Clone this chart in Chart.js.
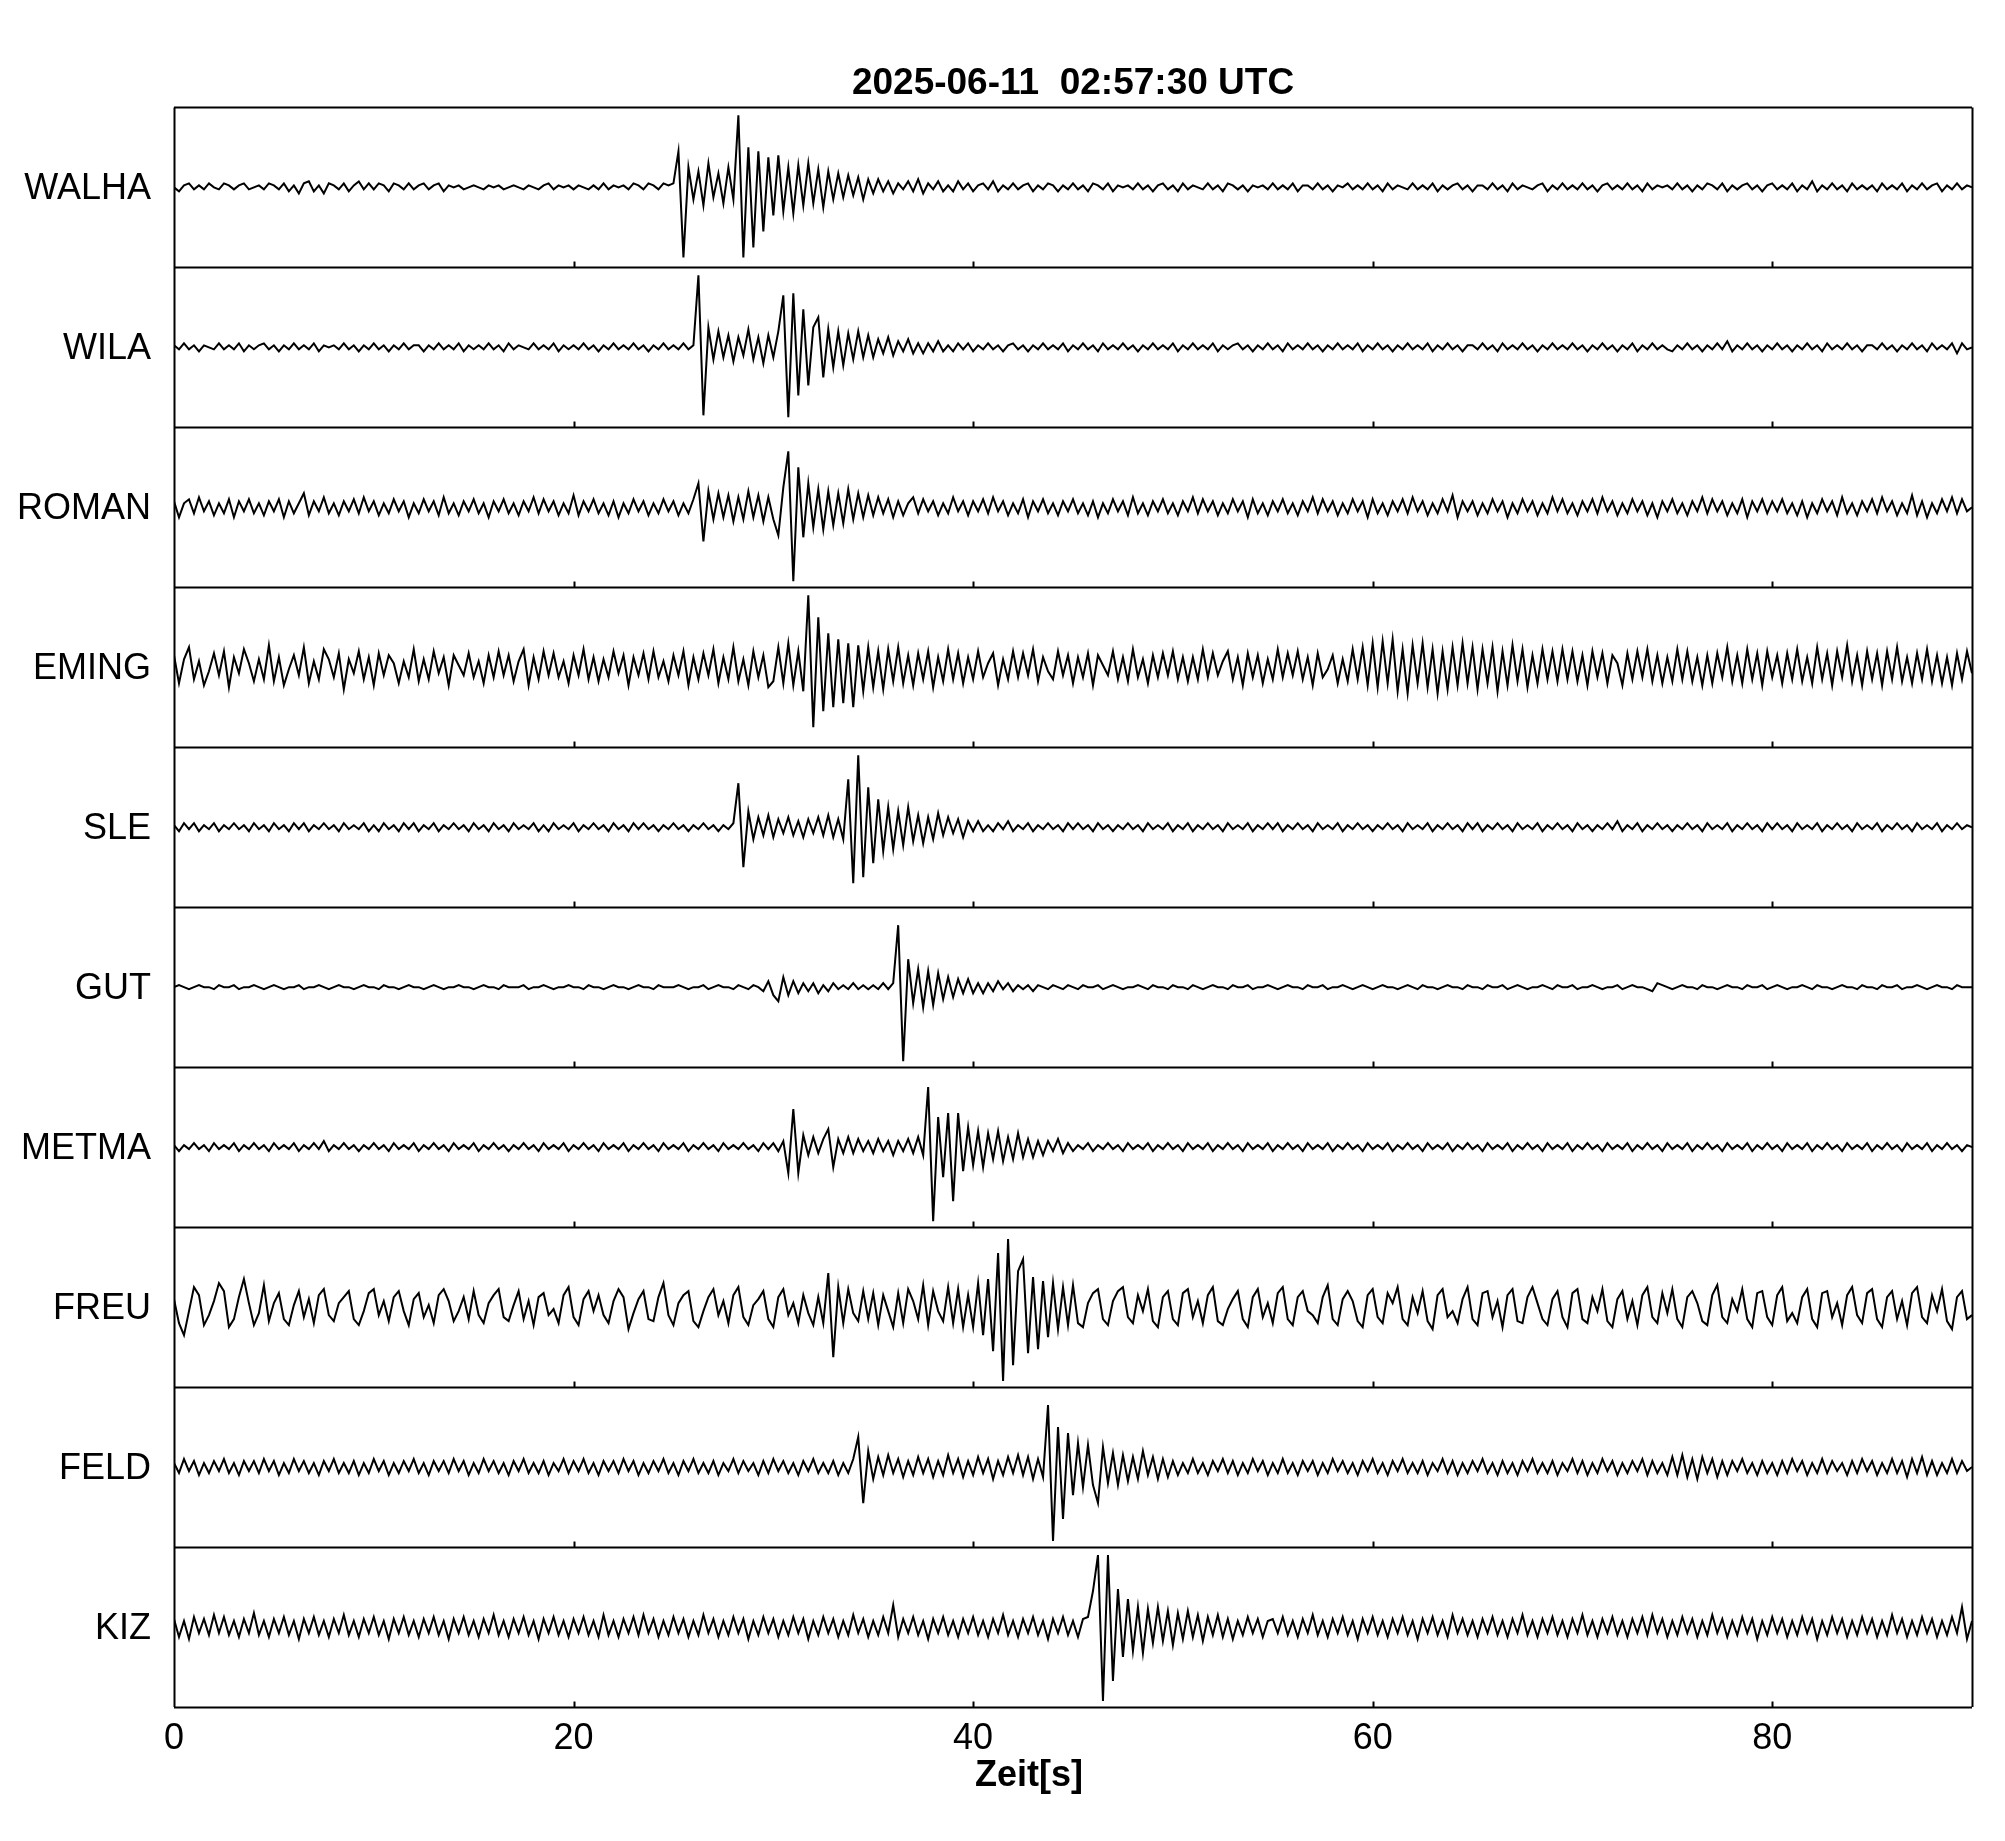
<!DOCTYPE html>
<html>
<head>
<meta charset="utf-8">
<script src="https://cdn.jsdelivr.net/npm/chart.js@4.4.1/dist/chart.umd.min.js"></script>
<style>
  html, body { margin: 0; padding: 0; background: #fff; }
  canvas { display: block; }
</style>
</head>
<body>
<canvas id="seis" width="2005" height="1841"></canvas>
<script>
// station names, top to bottom
const stations = ['WALHA', 'WILA', 'ROMAN', 'EMING', 'SLE', 'GUT', 'METMA', 'FREU', 'FELD', 'KIZ'];
const xTicks = [0, 20, 40, 60, 80];
const dt = 0.25; // seconds between samples

// amplitudes, one sample every 0.25 s (20 per row = 5 s)
const walha = [
  0,-2,1,2,-1,1,-1,2,0,-1,2,1,-1,1,2,-1,0,1,-1,2,
  1,-1,2,-2,1,-3,2,3,-2,1,-3,2,1,-1,2,-2,1,3,-1,2,
  -1,2,1,-2,2,1,-1,2,-1,1,2,-1,1,2,-2,1,0,1,-1,0,
  1,0,-1,1,0,1,-1,0,1,0,-1,1,0,-1,1,2,-1,1,0,1,
  -1,1,0,-1,1,-1,2,-1,1,0,1,-1,2,1,-1,2,1,-1,2,1,
  2,18,-35,10,-6,8,-9,12,-5,7,-8,10,-6,36,-35,20,-30,18,-22,15,
  -14,16,-12,10,-13,11,-9,12,-8,9,-10,8,-6,7,-5,6,-4,5,-6,4,
  -3,4,-2,3,-3,2,-1,3,-2,4,-3,2,-1,3,-2,1,-2,3,-1,2,
  -2,1,2,-1,3,-2,1,-1,2,-1,1,2,-2,1,-1,2,1,-2,1,-1,
  2,-1,1,-2,2,1,-1,2,-2,1,0,1,-1,2,-1,1,-2,1,2,-1,
  1,-2,2,-1,1,0,-1,2,-1,1,-2,2,1,-1,1,-2,1,0,1,-1,
  2,-1,1,-1,2,-2,1,1,-1,2,-1,1,-2,1,0,2,-1,1,-1,2,
  -1,1,-2,2,-1,1,0,-1,2,-1,1,-1,2,-2,1,-1,1,2,-1,1,
  -2,1,1,-1,2,-1,1,-2,2,-1,1,0,-1,1,2,-2,1,-1,2,-1,
  1,-1,2,-1,1,-2,1,2,-1,1,-1,2,-1,1,-2,2,-1,1,0,1,
  -1,2,-1,1,-2,1,-1,2,1,-1,2,-2,1,-1,1,2,-1,1,-2,1,
  2,-1,1,-1,2,-2,1,-1,3,-2,1,-1,2,-1,1,-2,2,-1,1,-1,
  1,-2,2,-1,1,-1,2,-2,1,-1,2,-1,1,2,-2,1,-1,2,-1,1,
  0
];
const wila = [
  1,-1,2,-1,1,-2,1,0,-1,2,-1,1,-1,2,-2,1,-1,1,2,-1,
  1,-2,1,-1,2,-1,1,-1,2,-2,1,0,1,-1,2,-1,1,-2,1,-1,
  2,-1,1,-2,1,-1,2,-1,1,1,-2,1,-1,2,-1,1,-1,2,-2,1,
  -1,1,-1,2,-1,1,-2,2,-1,1,0,-1,2,-1,1,-1,2,-2,1,-1,
  1,-1,2,-1,1,-2,1,-1,2,-1,1,-1,2,-1,1,-2,1,-1,2,-1,
  1,-1,2,-1,1,36,-34,10,-6,8,-5,6,-7,5,-4,9,-6,5,-8,6,
  -5,8,26,-35,27,-24,19,-19,10,15,-15,9,-10,8,-9,7,-6,8,-5,6,
  -5,4,-3,5,-4,3,-2,4,-3,2,-3,2,-2,3,-2,1,-2,2,-1,2,
  -2,1,-1,2,-1,1,-2,1,2,-1,1,-2,1,-1,2,-1,1,-1,2,-2,
  1,-1,2,-1,1,-2,2,-1,1,-1,2,-1,1,-2,1,-1,2,-1,1,-1,
  2,-2,1,-1,2,-1,1,-1,2,-2,1,-1,1,2,-1,1,-2,1,-1,2,
  -1,1,-2,2,-1,1,-1,2,-1,1,-2,1,-1,2,-1,1,-1,2,-2,1,
  -1,2,-1,1,-2,1,-1,2,-1,1,-1,2,-2,1,-1,2,-1,1,-2,1,
  1,-1,2,-1,1,-2,2,-1,1,-1,2,-1,1,-2,1,-1,2,-1,1,-1,
  2,-1,1,-2,1,-1,2,-1,1,-2,1,-1,2,-2,1,-1,2,-1,1,-1,
  -2,1,-1,2,-1,1,-2,1,-1,2,-1,3,-2,1,-1,2,-1,1,-2,1,
  -1,2,-1,1,-2,1,-1,2,-1,1,-2,2,-1,1,-1,2,-1,1,-2,1,
  1,-1,2,-1,1,-2,1,-1,2,-1,1,-2,2,-1,1,-1,2,-3,2,-1,
  0
];
const roman = [
  3,-5,2,4,-3,5,-2,3,-4,2,-3,4,-5,3,-2,4,-3,2,-4,3,
  -2,4,-5,3,-3,2,7,-4,3,-2,5,-3,2,-4,3,-2,4,-3,5,-2,
  3,-4,2,-3,4,-2,3,-5,2,-3,4,-2,3,-4,5,-3,2,-4,3,-2,
  4,-3,2,-5,3,-2,4,-3,2,-4,3,-2,5,-3,4,-2,3,-4,2,-3,
  6,-4,3,-2,4,-3,2,-4,3,-5,2,-3,4,-2,3,-4,2,-3,4,-2,
  3,-4,2,-3,4,12,-17,8,-6,7,-5,6,-7,5,-6,8,-5,6,-7,5,
  -6,-14,10,28,-37,20,-15,12,-10,9,-11,8,-9,7,-8,9,-6,7,-5,6,
  -4,5,-3,4,-5,3,-4,2,5,-3,4,-2,3,-4,2,-3,5,-2,3,-4,
  3,-2,4,-3,5,-2,3,-4,2,-3,4,-5,3,-2,4,-3,2,-4,3,-2,
  4,-3,2,-4,3,-5,2,-3,4,-2,3,-4,5,-3,2,-4,3,-2,4,-3,
  2,-4,3,-2,5,-3,4,-2,3,-4,2,-3,4,-2,3,-5,4,-3,2,-4,
  3,-2,4,-3,2,-4,3,-2,5,-3,4,-2,3,-4,2,-3,4,-2,3,-5,
  4,-3,2,-4,3,-2,4,-3,5,-2,3,-4,2,-3,4,-2,6,-5,3,-2,
  3,-4,2,-3,4,-2,3,-5,2,-3,4,-2,3,-4,2,-3,5,-2,4,-3,
  2,-4,3,-2,4,-3,5,-2,3,-4,2,-3,4,-2,3,-4,2,-5,3,-2,
  4,-3,2,-4,3,-2,5,-3,4,-2,3,-4,2,-3,4,-5,3,-2,4,-3,
  3,-2,4,-3,2,-4,3,-5,2,-3,4,-2,3,-4,5,-3,2,-4,3,-2,
  4,-3,5,-2,3,-4,2,-3,6,-4,3,-5,2,-3,4,-2,5,-3,4,-2,
  0
];
const eming = [
  6,-8,4,10,-6,3,-9,-2,7,-4,8,-10,5,-3,9,2,-7,4,-6,11,
  -7,5,-9,-1,6,-4,10,-8,3,-6,9,4,-5,7,-11,4,-3,8,-6,5,
  -9,7,-4,6,2,-8,3,-5,9,-7,4,-6,8,-3,5,-9,6,1,-4,7,
  -5,3,-8,6,-5,8,-4,6,-7,3,9,-9,5,-6,8,-4,7,-5,3,-8,
  6,-4,9,-6,5,-7,4,-5,8,-3,6,-9,5,-4,7,-6,8,-5,3,-7,
  6,-4,8,-9,5,-6,7,-4,9,-8,5,-6,10,-7,4,-9,8,-5,6,-10,
  -7,10,-8,12,-9,8,-12,36,-30,25,-22,17,-20,14,-18,12,-20,11,-12,10,
  -10,8,-11,9,-7,10,-8,6,-9,7,-6,8,-10,5,-7,9,-6,7,-8,5,
  -6,8,-5,2,7,-9,4,-6,8,-5,7,-4,9,-7,5,-2,-6,8,-4,6,
  -8,5,-5,7,-9,6,1,-4,8,-6,5,-7,9,-5,4,-8,6,-5,7,-4,
  8,-6,5,-7,5,-6,9,-5,7,-4,3,8,-6,5,-9,7,-5,6,-8,4,
  -6,9,-5,7,-4,8,-6,5,-9,7,-5,-1,6,-8,4,-7,9,-6,10,-9,
  12,-10,13,-8,14,-12,9,-13,11,-8,12,-10,9,-13,8,-11,10,-9,12,-8,
  10,-11,9,-8,10,-12,8,-9,11,-7,9,-10,6,-8,9,-6,8,-7,9,-6,
  8,-7,6,-9,8,-5,7,-8,6,2,-9,7,-6,8,-5,9,-7,6,-8,5,
  -7,9,-6,8,-7,5,-9,6,-8,7,-5,10,-7,6,-8,9,-6,7,-9,8,
  -5,6,-8,7,-6,9,-7,5,-8,10,-6,7,-9,8,-5,11,-7,6,-9,8,
  -6,7,-9,8,-6,10,-7,5,-8,7,-6,9,-7,6,-8,5,-9,7,-6,8,
  -3
];
const sle = [
  1,-2,2,-1,2,-2,1,-1,2,-2,1,-1,2,-1,1,-2,2,-1,1,-2,
  2,-1,1,-2,2,-1,2,-2,1,-1,2,-1,1,-2,2,-1,1,-1,2,-2,
  1,-2,2,-1,1,-2,2,-1,2,-2,1,-1,2,-2,1,-1,2,-1,1,-2,
  2,-1,1,-2,2,-1,1,-2,2,-1,1,-1,2,-2,1,-2,2,-1,1,-1,
  2,-2,1,-1,2,-1,1,-2,2,-1,1,-2,2,-1,2,-1,1,-2,1,-1,
  2,-1,1,-2,1,-1,2,-1,1,-2,1,-1,2,22,-20,8,-6,5,-4,6,
  -5,4,-3,5,-4,3,-5,4,-3,5,-4,6,-5,4,-6,24,-28,36,-25,20,
  -18,14,-12,10,-11,8,-9,10,-7,6,-8,5,-6,7,-4,5,-3,4,-5,3,
  -2,3,-2,1,-2,2,-1,3,-2,1,-1,2,-2,1,-1,2,-1,1,-2,2,
  -1,2,-1,1,-2,2,-1,1,-2,1,-1,2,-1,1,-2,2,-1,1,-1,2,
  -2,1,-1,2,-2,1,-1,2,-1,1,-2,2,-1,1,-1,2,-2,1,-1,2,
  -1,2,-2,1,-1,2,-1,1,-2,2,-1,1,-1,2,-2,1,-1,2,-1,1,
  -2,1,-1,2,-1,1,-2,2,-1,1,-1,2,-2,1,-1,2,-1,1,-2,2,
  -1,2,-2,1,-1,2,-1,1,-2,2,-1,1,-1,2,-2,1,-1,2,-1,1,
  -2,2,-1,1,-2,1,-1,2,-1,3,-2,1,-1,2,-2,1,-1,2,-1,1,
  -2,1,-1,2,-1,1,-2,2,-1,1,-1,2,-2,1,-1,2,-1,1,-2,2,
  -1,2,-1,1,-2,2,-1,1,-1,2,-2,1,-1,2,-1,1,-2,2,-1,1,
  -1,2,-2,1,-1,2,-1,1,-2,2,-1,1,-1,2,-2,1,-1,2,-1,1,
  0
];
const gut = [
  0,1,0,-1,0,1,0,0,-1,1,0,0,1,-1,0,0,1,0,-1,0,
  1,0,-1,0,0,1,-1,0,0,1,0,-1,0,1,0,0,-1,0,1,0,
  0,-1,1,0,0,-1,0,1,0,0,-1,0,1,0,-1,0,0,1,0,0,
  -1,0,1,0,0,-1,1,0,0,0,1,-1,0,0,1,0,-1,0,0,1,
  0,0,-1,1,0,0,-1,0,1,0,0,-1,0,1,0,0,-1,1,0,0,
  0,1,0,-1,0,0,1,-1,0,1,0,0,-1,1,0,-1,1,0,-2,3,
  -4,-7,5,-4,3,-3,2,-2,2,-3,1,-2,2,-1,1,-1,2,-1,1,-1,
  1,-1,2,-1,2,31,-37,14,-8,9,-10,8,-9,7,-6,5,-5,4,-3,4,
  -3,2,-3,2,-2,3,-1,2,-2,1,-1,1,-2,1,0,-1,1,0,-1,1,
  0,-1,1,0,0,1,-1,0,1,0,-1,0,0,1,0,-1,1,0,0,-1,
  1,0,0,-1,1,0,-1,0,1,0,0,-1,1,0,0,1,-1,0,0,1,
  0,-1,0,1,0,0,-1,1,0,0,1,-1,0,0,1,0,-1,0,1,0,
  -1,0,1,0,0,-1,0,1,0,-1,1,0,0,-1,0,1,0,0,-1,1,
  0,0,-1,1,0,0,1,-1,0,1,0,-1,0,0,1,0,-1,1,0,0,
  1,-1,0,0,1,0,-1,0,0,1,-1,0,1,0,0,-1,-2,2,1,0,
  -1,0,1,0,0,-1,1,0,0,-1,0,1,0,0,-1,1,0,0,1,-1,
  0,1,0,-1,0,0,1,0,-1,1,0,0,-1,0,1,0,0,-1,1,0,
  0,-1,1,0,0,1,-1,0,0,1,0,-1,0,1,0,0,-1,1,0,0,
  0
];
const metma = [
  1,-2,1,-1,2,-1,1,-2,2,-1,1,-1,2,-2,1,-1,2,-1,1,-2,
  2,-1,1,-1,2,-2,1,-1,2,-1,3,-2,1,-1,2,-1,1,-2,1,-1,
  2,-1,1,-2,2,-1,1,-1,2,-2,1,-1,2,-1,1,-2,2,-1,1,-1,
  2,-2,1,-1,2,-1,1,-2,1,-1,2,-1,1,-2,2,-1,1,-1,2,-2,
  1,-1,2,-1,1,-2,2,-1,1,-1,2,-2,1,-1,2,-1,1,-2,2,-1,
  1,-1,2,-2,1,-1,2,-1,1,-2,2,-1,1,-1,2,-1,1,-2,2,-1,
  2,-2,3,-13,19,-13,6,-4,5,-3,4,9,-10,4,-3,5,-3,4,-2,3,
  -3,4,-2,3,-4,3,-2,4,-3,5,-4,30,-37,15,-15,17,-27,17,-12,10,
  -9,8,-10,7,-6,8,-7,5,-6,7,-5,4,-5,3,-4,3,-2,4,-3,2,
  -2,1,-1,2,-2,1,-1,2,-1,1,-2,2,-1,1,-1,2,-2,1,-1,2,
  -1,1,-2,2,-1,1,-1,2,-2,1,-1,2,-1,1,-2,2,-1,1,-1,2,
  -2,1,-1,2,-1,1,-2,2,-1,1,-1,2,-2,1,-1,2,-1,1,-2,2,
  -1,1,-1,2,-2,1,-1,2,-1,1,-2,2,-1,1,-1,2,-2,1,-1,2,
  -1,1,-2,2,-1,1,-1,2,-2,1,-1,2,-1,1,-2,2,-1,1,-1,2,
  -2,1,-1,2,-1,1,-2,2,-1,1,-1,2,-2,1,-1,2,-1,1,-2,2,
  -1,1,-1,2,-2,1,-1,2,-1,1,-2,2,-1,1,-1,2,-2,1,-1,2,
  -1,1,-2,2,-1,1,-1,2,-2,1,-1,2,-1,1,-2,2,-1,1,-1,2,
  -2,1,-1,2,-1,1,-2,2,-1,1,-1,2,-2,1,-1,2,-1,1,-2,1,
  0
];
const freu = [
  4,-8,-14,-2,10,6,-9,-4,3,12,8,-10,-6,5,14,2,-9,-3,11,-7,
  2,7,-6,-9,1,8,-5,4,-8,6,9,-4,-7,2,5,8,-6,-9,-2,7,
  9,-4,3,-7,5,8,-2,-9,4,7,-5,1,-8,6,9,3,-7,-2,5,-6,
  8,-4,-8,2,6,9,-5,-7,1,8,-6,3,-9,5,7,-4,-1,-8,6,10,
  -5,-9,4,8,-2,6,-4,-8,3,9,5,-11,-3,4,8,-6,-7,5,12,-4,
  -9,2,6,8,-7,-10,-2,5,9,-4,3,-8,6,10,-5,-9,1,4,8,-6,
  -10,5,9,-4,2,-8,6,-3,-9,5,-8,17,-25,10,-8,9,-3,-7,8,-6,
  7,-9,6,-2,-10,7,-8,9,3,-6,11,-9,8,-2,-7,10,-8,9,-10,6,
  -10,12,-14,14,-22,27,-37,34,-29,18,24,-23,15,-21,13,-15,12,-11,10,-9,
  11,-8,-10,2,7,9,-6,-9,3,8,10,-5,-8,6,-2,9,-7,-10,5,8,
  -6,-9,7,9,-5,3,-8,6,10,-7,-9,-1,4,8,-6,-10,5,9,-5,2,
  -8,7,10,-6,-9,5,8,-2,-4,-8,5,11,-6,-9,4,8,3,-7,-10,6,
  9,-5,-8,7,2,10,-6,-9,5,-3,8,-7,-11,6,9,-5,-2,-8,4,10,
  -6,-9,7,8,-5,3,-10,6,9,-7,-8,5,10,2,-6,-9,4,8,-5,-10,
  7,9,-6,-8,5,-2,9,-7,-10,4,8,-6,3,-9,6,10,-5,-8,7,-3,
  9,-6,-10,5,8,2,-7,-9,6,11,-5,-8,4,-2,9,-6,-10,7,8,-5,
  -9,6,10,-7,-3,-8,5,9,-6,-10,7,8,-5,2,-9,6,10,-4,-8,7,
  9,-6,-10,5,8,-6,3,-9,7,10,-5,-8,6,-2,9,-7,-11,5,8,-6,
  -4
];
const feld = [
  2,-3,4,-2,3,-4,2,-3,3,-2,4,-3,2,-4,3,-2,3,-3,4,-2,
  3,-4,2,-3,4,-2,3,-3,2,-4,3,-2,4,-3,2,-3,3,-4,2,-3,
  4,-2,3,-4,2,-3,3,-2,4,-3,2,-4,3,-2,3,-3,4,-2,3,-4,
  2,-3,4,-2,3,-3,2,-4,3,-2,4,-3,2,-3,3,-4,2,-2,4,-3,
  3,-2,4,-3,2,-4,3,-2,3,-3,4,-2,3,-4,2,-3,3,-2,4,-3,
  2,-4,3,-2,4,-3,2,-3,3,-4,2,-2,4,-3,3,-2,2,-4,3,-3,
  4,-2,3,-3,2,-4,3,-2,4,-3,2,-3,3,-4,2,-3,4,15,-18,8,
  -6,5,-4,6,-3,4,-5,3,-4,5,-3,4,-5,3,-4,6,-3,4,-5,3,
  -4,5,-3,4,-6,3,-4,5,-3,6,-4,5,-6,4,-5,31,-37,20,-26,17,
  -14,12,-10,11,-9,-18,10,-8,7,-9,6,-7,5,-6,8,-4,5,-6,4,-5,
  3,-4,2,-3,4,-3,2,-4,3,-2,4,-3,3,-4,2,-3,4,-2,3,-4,
  2,-3,4,-3,2,-4,3,-2,3,-4,2,-3,4,-2,3,-3,2,-4,3,-2,
  4,-3,2,-4,3,-2,4,-3,2,-3,3,-4,2,-2,4,-3,3,-4,2,-3,
  3,-2,4,-3,2,-4,3,-3,2,-4,3,-2,4,-3,2,-3,3,-4,2,-2,
  4,-3,3,-4,2,-3,4,-2,3,-4,2,-3,3,-2,4,-4,3,-3,2,-4,
  5,-4,6,-5,4,-6,5,-3,4,-5,3,-4,3,-2,4,-3,2,-4,3,-3,
  2,-4,3,-3,4,-2,3,-4,2,-3,4,-3,3,-2,2,-4,3,-3,4,-2,
  3,-4,2,-3,4,-3,3,-5,4,-3,5,-4,3,-4,2,-3,4,-3,3,-2,
  0
];
const kiz = [
  4,-5,3,-6,5,-3,4,-4,6,-3,5,-4,3,-5,4,-3,7,-4,3,-5,
  4,-3,5,-4,3,-6,4,-3,5,-4,3,-5,4,-3,6,-4,3,-5,4,-3,
  5,-4,3,-6,4,-3,5,-4,3,-5,4,-3,5,-4,3,-6,4,-3,5,-4,
  3,-5,4,-3,6,-4,3,-5,4,-3,5,-4,3,-6,4,-3,5,-4,3,-5,
  4,-3,5,-4,3,-5,6,-4,3,-5,4,-3,5,-4,6,-3,4,-5,3,-4,
  5,-3,4,-5,3,-4,6,-3,4,-5,3,-4,5,-3,4,-6,3,-4,5,-3,
  4,-5,3,-4,5,-3,4,-6,3,-4,5,-3,4,-5,3,-4,6,-3,4,-5,
  3,-4,5,-3,11,-5,4,-3,5,-4,3,-6,4,-3,5,-4,3,-5,4,-3,
  5,-4,3,-5,4,-3,6,-4,3,-5,4,-3,5,-4,3,-6,4,-3,5,-4,
  3,-5,4,5,18,36,-37,36,-27,19,-15,14,-12,10,-13,9,-8,10,-7,8,
  -9,7,-6,8,-5,6,-7,5,-4,6,-5,4,-6,3,-4,5,-3,4,-5,3,
  4,-3,5,-4,3,-5,4,-3,6,-4,3,-5,4,-3,5,-4,3,-6,4,-3,
  5,-4,3,-5,4,-3,5,-4,3,-6,4,-3,5,-4,3,-5,6,-3,4,-4,
  3,-5,4,-3,5,-4,3,-5,4,-3,6,-4,3,-5,4,-3,5,-4,3,-5,
  4,-3,6,-4,3,-5,4,-3,5,-4,3,-5,4,-3,5,-4,6,-3,4,-5,
  3,-4,5,-3,4,-5,3,-4,6,-3,4,-5,3,-4,5,-3,4,-6,3,-4,
  5,-3,4,-5,3,-4,5,-3,4,-6,3,-4,5,-3,4,-5,3,-4,5,-3,
  4,-5,3,-4,6,-3,4,-5,3,-4,5,-3,4,-5,3,-4,5,-3,10,-6,
  3
];

const traces = [walha, wila, roman, eming, sle, gut, metma, freu, feld, kiz];
const PANEL = 80; // y units per panel (trace values are +-40 around its centre)
const N = stations.length;
const centre = k => (N - k) * PANEL - PANEL / 2;

const datasets = traces.map((vals, k) => ({
  label: stations[k],
  data: vals.map((v, i) => ({ x: i * dt, y: centre(k) + v })),
  borderColor: '#000',
  borderWidth: 2,
  pointRadius: 0,
  tension: 0,
  fill: false
}));

// panel frames and the small inward time ticks on every panel bottom
const panelFrames = {
  id: 'panelFrames',
  afterDatasetsDraw(chart) {
    const { ctx, chartArea: a, scales: { x, y } } = chart;
    ctx.save();
    ctx.strokeStyle = '#000';
    ctx.lineWidth = 2;
    ctx.beginPath();
    for (let k = 0; k <= N; k++) {
      const py = Math.round(y.getPixelForValue(k * PANEL)) + 0.5;
      ctx.moveTo(a.left, py);
      ctx.lineTo(a.right, py);
      if (k < N) {
        xTicks.forEach(t => {
          if (t === 0) return;
          const px = Math.round(x.getPixelForValue(t)) + 0.5;
          ctx.moveTo(px, py);
          ctx.lineTo(px, py - 6);
        });
      }
    }
    ctx.moveTo(a.left + 0.5, a.top);
    ctx.lineTo(a.left + 0.5, a.bottom);
    ctx.moveTo(a.right + 0.5, a.top);
    ctx.lineTo(a.right + 0.5, a.bottom);
    ctx.stroke();

    // axis title
    ctx.fillStyle = '#000';
    ctx.font = 'bold 36px "Liberation Sans", Arial, sans-serif';
    ctx.textAlign = 'center';
    ctx.textBaseline = 'middle';
    ctx.fillText('Zeit[s]', a.left + a.width * 0.4755, 1776);
    ctx.restore();
  }
};

Chart.defaults.font.family = '"Liberation Sans", Arial, sans-serif';
Chart.defaults.color = '#000';

new Chart(document.getElementById('seis'), {
  type: 'line',
  data: { datasets },
  options: {
    responsive: false,
    animation: false,
    devicePixelRatio: 1,
    layout: { padding: { left: 0, right: 33, top: 0, bottom: 0 } },
    plugins: {
      legend: { display: false },
      tooltip: { enabled: false },
      title: {
        display: true,
        fullSize: false,
        text: '2025-06-11  02:57:30 UTC',
        font: { size: 37, weight: 'bold', lineHeight: 1.2 },
        padding: { top: 62, bottom: 1 },
        color: '#000'
      }
    },
    scales: {
      x: {
        type: 'linear',
        min: 0,
        max: 90,
        grid: { display: false, drawTicks: false },
        border: { display: false },
        afterFit: s => { s.height = 134; },
        afterBuildTicks: s => { s.ticks = xTicks.map(v => ({ value: v })); },
        ticks: { padding: 10, font: { size: 36 }, maxRotation: 0 }
      },
      y: {
        type: 'linear',
        min: 0,
        max: N * PANEL,
        grid: { display: false, drawTicks: false },
        border: { display: false },
        afterFit: s => { s.width = 174; },
        afterBuildTicks: s => { s.ticks = stations.map((n, k) => ({ value: centre(k) - 1 })); },
        ticks: {
          padding: 23,
          font: { size: 36 },
          callback: v => stations[Math.round(N - (v + 1 + PANEL / 2) / PANEL)]
        }
      }
    }
  },
  plugins: [panelFrames]
});
</script>
</body>
</html>
